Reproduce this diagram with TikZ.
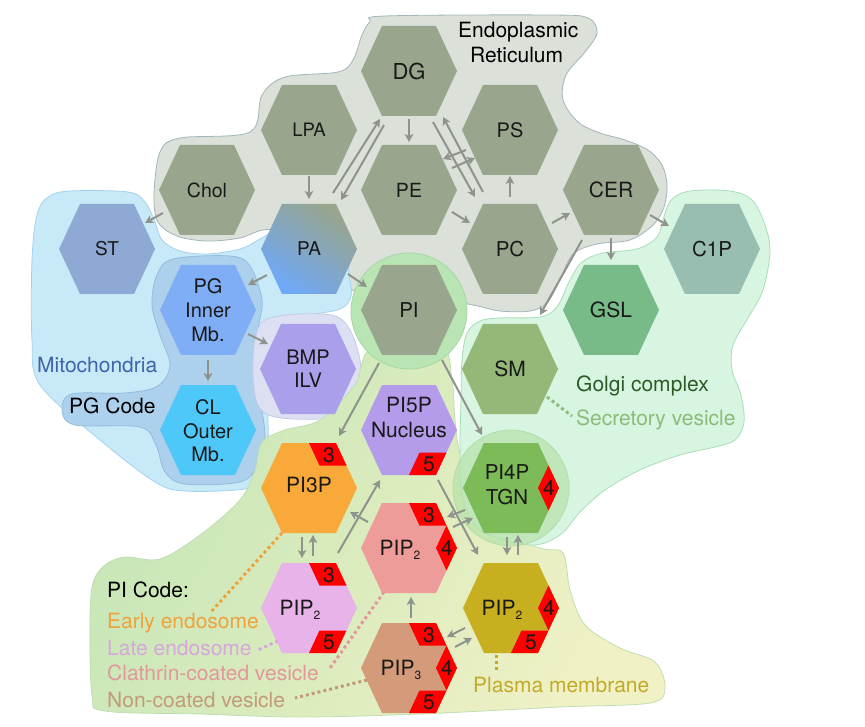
\documentclass[tikz,border=0pt]{standalone}
\usepackage{fontspec}
\setmainfont{TeX Gyre Heros}
\usetikzlibrary{arrows.meta,calc}

\definecolor{erbg}{HTML}{DBE0D9}
\definecolor{erbd}{HTML}{A3B5B9}
\definecolor{erhex}{HTML}{99A58C}
\definecolor{mitobg}{HTML}{C7E9F8}
\definecolor{mitobd}{HTML}{A4D2EC}
\definecolor{pgbg}{HTML}{ADD0EC}
\definecolor{pgbd}{HTML}{93BCDD}
\definecolor{sthex}{HTML}{8EA9D4}
\definecolor{pghex}{HTML}{7FADF6}
\definecolor{clhex}{HTML}{4DC8F8}
\definecolor{bmpbg}{HTML}{DDE0F3}
\definecolor{bmpbd}{HTML}{C5CAE8}
\definecolor{bmphex}{HTML}{AA9FEB}
\definecolor{pablue}{HTML}{6EA8F8}
\definecolor{piring}{HTML}{B9E4B4}
\definecolor{piringbd}{HTML}{A5D8A2}
\definecolor{golgibg}{HTML}{D7F5E0}
\definecolor{golgibd}{HTML}{A9DDB9}
\definecolor{c1phex}{HTML}{98BEB2}
\definecolor{gslhex}{HTML}{78BB89}
\definecolor{smhex}{HTML}{93B878}
\definecolor{picodeA}{HTML}{C6E6B7}
\definecolor{picodeB}{HTML}{F0F1C5}
\definecolor{picodebd}{HTML}{C0DEB2}
\definecolor{tgnring}{HTML}{B6E2AA}
\definecolor{tgnringbd}{HTML}{A8D8A4}
\definecolor{pifivehex}{HTML}{B49CEA}
\definecolor{pithreehex}{HTML}{F9A93A}
\definecolor{tgnhex}{HTML}{7CBB58}
\definecolor{pinkhex}{HTML}{EE9C9A}
\definecolor{lilachex}{HTML}{E8B3E8}
\definecolor{olivehex}{HTML}{C8AF20}
\definecolor{pipthreehex}{HTML}{D49B7A}
\definecolor{badgered}{HTML}{FF0000}
\definecolor{arrowgray}{HTML}{8E948B}
\definecolor{mitotxt}{HTML}{3F64AA}
\definecolor{golgitxt}{HTML}{2E5A28}
\definecolor{secrtxt}{HTML}{8DBB78}
\definecolor{earlytxt}{HTML}{F0A23A}
\definecolor{latetxt}{HTML}{D6A6DC}
\definecolor{clathtxt}{HTML}{E2979A}
\definecolor{nontxt}{HTML}{C39A78}
\definecolor{plasmatxt}{HTML}{C2AA2A}

\newcommand\hexat[4]{\pic[fill=#4] at (#2,#3) {hexa}; \coordinate (#1) at (#2,#3);}
\newcommand\sbtwo[1]{\raisebox{-0.35ex}{\fontsize{12}{12}\selectfont #1}}

\begin{document}
\begin{tikzpicture}[x=1pt,y=-1pt,
  hexa/.pic={\path[pic actions] (-48,0) -- (-27,-45) -- (27,-45) -- (48,0) -- (27,45) -- (-27,45) -- cycle;},
  bthree/.pic={\fill[badgered] (0,-45) -- (27,-45) -- (37.5,-22.5) -- (10.5,-22.5) -- cycle; \node[bnum] (-n) at (20,-33) {3};},
  bfour/.pic={\fill[badgered] (37.5,-22.5) -- (48,0) -- (37.5,22.5) -- (27,0) -- cycle; \node[bnum] (-n) at (38,0) {4};},
  bfive/.pic={\fill[badgered] (0,45) -- (27,45) -- (37.5,22.5) -- (10.5,22.5) -- cycle; \node[bnum] (-n) at (20,34) {5};},
  lbl/.style={font=\fontsize{20}{24}\selectfont, align=center, inner sep=0pt, text=black!90},
  bnum/.style={font=\fontsize{21}{21}\selectfont, inner sep=0pt, text=black!90},
  txt/.style={font=\fontsize{21}{25}\selectfont, inner sep=0pt, anchor=base west},
  arr/.style={draw=arrowgray, line width=2pt, -{Stealth[length=8pt,width=8.5pt,inset=2pt]}},
  dotl/.style={line width=3pt, dash pattern=on 3pt off 3pt},
  blob/.style={line width=0.8pt},
]
\useasboundingbox (0,0) rectangle (865,727);

% ---------- regions ----------
\filldraw[blob, fill=erbg, draw=erbd] plot[smooth cycle, tension=0.55] coordinates {
 (370,22) (385,16) (550,15) (588,18) (597,33) (585,52) (566,75) (563,100) (578,122)
 (600,133) (625,140) (648,150) (662,165) (667,185) (664,207) (653,225) (630,240)
 (597,244) (573,254) (560,280) (547,303) (530,311) (500,311) (473,305) (440,300)
 (380,300) (345,285) (320,255) (290,232) (263,230) (240,238) (207,241) (177,236)
 (158,222) (154,195) (160,152) (180,138) (250,132) (262,95) (285,77) (338,72)
 (353,60) (362,35)};

\filldraw[blob, fill=mitobg, draw=mitobd] plot[smooth cycle, tension=0.55] coordinates {
 (345,250) (349,275) (351,296) (340,309) (300,317) (278,328) (268,370) (268,420)
 (268,455) (260,478) (245,489) (185,491) (155,482) (100,440) (40,385) (32,340)
 (32,260) (37,215) (48,197) (70,191) (128,192) (145,202) (155,222) (162,240)
 (180,251) (207,254) (240,249) (262,238) (285,226) (320,228)};

\filldraw[blob, fill=pgbg, draw=pgbd] plot[smooth cycle, tension=0.55] coordinates {
 (173,259) (230,256) (250,266) (262,300) (258,330) (256,370) (262,410) (265,440)
 (258,465) (240,482) (185,484) (165,472) (156,445) (140,427) (75,425) (62,410)
 (72,394) (125,393) (158,386) (170,365) (160,335) (152,305) (157,275)};

\filldraw[blob, fill=bmpbg, draw=bmpbd] plot[smooth cycle, tension=0.55] coordinates {
 (265,320) (300,314) (335,316) (350,330) (360,360) (360,390) (350,412) (320,419)
 (275,417) (258,405) (253,375) (255,340)};

\shade[blob, draw=picodebd, top color=picodeA, bottom color=picodeB, shading angle=62]
 plot[smooth cycle, tension=0.55] coordinates {
 (372,348) (440,345) (452,380) (455,420) (462,460) (490,525) (540,548) (563,553)
 (570,590) (585,625) (620,648) (655,662) (665,688) (650,703) (560,707) (420,714)
 (300,717) (200,714) (105,711) (92,695) (90,620) (93,583) (105,565) (125,557)
 (160,559) (200,535) (240,500) (255,470) (262,442) (285,430) (320,420) (355,385)};

\filldraw[blob, fill=golgibg, draw=golgibd] plot[smooth cycle, tension=0.55] coordinates {
 (690,191) (730,191) (752,200) (765,225) (770,252) (763,290) (748,318) (733,345)
 (732,370) (741,395) (744,422) (735,440) (715,447) (680,455) (640,470) (605,490)
 (580,512) (560,535) (530,545) (480,530) (462,495) (460,450) (461,400) (462,360)
 (467,333) (480,321) (500,318) (540,317) (557,307) (570,280) (582,262) (603,253)
 (637,249) (657,237) (664,217) (671,200)};

\filldraw[blob, fill=piring, draw=piringbd] (409,311) circle (58pt);
\filldraw[blob, fill=tgnring, fill opacity=0.7, draw=tgnringbd, draw opacity=0.7] (511,488) circle (58pt);

% ---------- hexagons ----------
\hexat{DG}{409}{71}{erhex}
\hexat{LPA}{309}{130}{erhex}
\hexat{PS}{510}{130}{erhex}
\hexat{Chol}{207}{190}{erhex}
\hexat{PE}{409}{190}{erhex}
\hexat{CER}{611}{190}{erhex}
\hexat{ST}{107}{249}{sthex}
\coordinate (PA) at (309,249);
\shade[top color=erhex, bottom color=pablue, shading angle=-35]
 (261,249) -- (282,204) -- (336,204) -- (357,249) -- (336,294) -- (282,294) -- cycle;
\hexat{PC}{510}{249}{erhex}
\hexat{CiP}{712}{249}{c1phex}
\hexat{PGI}{208}{310}{pghex}
\hexat{PI}{409}{310}{erhex}
\hexat{GSL}{611}{310}{gslhex}
\hexat{BMP}{308}{369}{bmphex}
\hexat{SM}{510}{369}{smhex}
\hexat{CL}{208}{430}{clhex}
\hexat{PIfive}{409}{430}{pifivehex}
\hexat{PIthree}{309}{488}{pithreehex}
\hexat{TGN}{511}{488}{tgnhex}
\hexat{Pink}{409}{548}{pinkhex}
\hexat{Lilac}{309}{608}{lilachex}
\hexat{Olive}{511}{608}{olivehex}
\hexat{PIPthree}{409}{668}{pipthreehex}

% badges
\pic (bA) at (PIthree) {bthree};
\pic (bB) at (PIfive) {bfive};
\pic (bC) at (TGN) {bfour};
\pic (bD) at (Pink) {bthree};
\pic (bE) at (Pink) {bfour};
\pic (bF) at (Lilac) {bthree};
\pic (bG) at (Lilac) {bfive};
\pic (bH) at (Olive) {bfour};
\pic (bI) at (Olive) {bfive};
\pic (bJ) at (PIPthree) {bthree};
\pic (bK) at (PIPthree) {bfour};
\pic (bL) at (PIPthree) {bfive};

% ---------- hexagon labels ----------
\node[lbl, font=\fontsize{22}{26}\selectfont] (tDG) at (DG) {DG};
\node[lbl, font=\fontsize{18.5}{22}\selectfont] (tLPA) at (LPA) {LPA};
\node[lbl, font=\fontsize{20}{24}\selectfont] (tPS) at (PS) {PS};
\node[lbl, font=\fontsize{19.5}{24}\selectfont] (tChol) at (Chol) {Chol};
\node[lbl, font=\fontsize{19.5}{24}\selectfont] (tPE) at (PE) {PE};
\node[lbl, font=\fontsize{21}{24}\selectfont] (tCER) at (CER) {CER};
\node[lbl, font=\fontsize{19}{24}\selectfont] (tST) at (ST) {ST};
\node[lbl, font=\fontsize{19}{24}\selectfont] (tPA) at (PA) {PA};
\node[lbl, font=\fontsize{20.5}{24}\selectfont] (tPC) at (PC) {PC};
\node[lbl, font=\fontsize{20.5}{24}\selectfont] (tCiP) at (CiP) {C1P};
\node[lbl] (tPGI) at (PGI) {PG\\Inner\\Mb.};
\node[lbl, font=\fontsize{20.5}{24}\selectfont] (tPI) at (PI) {PI};
\node[lbl, font=\fontsize{21}{24}\selectfont] (tGSL) at (GSL) {GSL};
\node[lbl, font=\fontsize{20}{23}\selectfont] (tBMP) at (BMP) {BMP\\ILV};
\node[lbl, font=\fontsize{21}{24}\selectfont] (tSM) at (SM) {SM};
\node[lbl, font=\fontsize{20}{23.5}\selectfont] (tCL) at ($(CL)+(0,1)$) {CL\\Outer\\Mb.};
\node[lbl, font=\fontsize{21}{25}\selectfont] (tPIfive) at ($(PIfive)+(0,-12)$) {PI5P\\Nucleus};
\node[lbl, font=\fontsize{21}{24}\selectfont] (tPIthree) at ($(PIthree)+(0,-3)$) {PI3P};
\node[lbl, font=\fontsize{20.5}{25}\selectfont] (tTGN) at ($(TGN)+(-4,-3)$) {PI4P\\TGN};
\node[lbl, font=\fontsize{21}{24}\selectfont, anchor=base] (tPink) at ($(Pink)+(-9,7.5)$) {PIP\sbtwo{2}};
\node[lbl, font=\fontsize{21}{24}\selectfont, anchor=base] (tLilac) at ($(Lilac)+(-9,7.5)$) {PIP\sbtwo{2}};
\node[lbl, font=\fontsize{21}{24}\selectfont, anchor=base] (tOlive) at ($(Olive)+(-9,7.5)$) {PIP\sbtwo{2}};
\node[lbl, font=\fontsize{21}{24}\selectfont, anchor=base] (tPIPthree) at ($(PIPthree)+(-8,7.5)$) {PIP\sbtwo{3}};

% ---------- arrows ----------
\draw[arr] ($(LPA)+(0,46)$) -- ($(PA)+(0,-50)$);
\draw[arr] ($(DG)+(0,48)$) -- ($(PE)+(0,-48)$);
\draw[arr] ($(PA)+(24,-56)$) -- ($(DG)+(-29,48)$);
\draw[arr] ($(DG)+(-25,54)$) -- ($(PA)+(32,-49)$);
\draw[arr] ($(DG)+(24,51)$) -- ($(PC)+(-35,-52)$);
\draw[arr] ($(PC)+(-27,-57)$) -- ($(DG)+(34,46)$);
\draw[arr] ($(PS)+(-44,20)$) -- ($(PE)+(34,-31)$);
\draw[arr] ($(PE)+(43,-22)$) -- ($(PS)+(-35,28)$);
\draw[arr] ($(PC)+(0,-52)$) -- ($(PS)+(0,46)$);
\draw[arr] ($(PE)+(43,22)$) -- ($(PC)+(-40,-26)$);
\draw[arr] ($(PC)+(42,-26)$) -- ($(CER)+(-41,23)$);
\draw[arr] ($(CER)+(39,25)$) -- ($(CiP)+(-43,-23)$);
\draw[arr] ($(CER)+(0,48)$) -- ($(GSL)+(0,-50)$);
\draw[arr] ($(CER)+(-29,50)$) -- ($(SM)+(30,-54)$);
\draw[arr] ($(Chol)+(-44,23)$) -- ($(ST)+(38,-26)$);
\draw[arr] ($(PA)+(-42,26)$) -- ($(PGI)+(40,-25)$);
\draw[arr] ($(PA)+(39,25)$) -- ($(PI)+(-42,-23)$);
\draw[arr] ($(PGI)+(40,24)$) -- ($(BMP)+(-40,-25)$);
\draw[arr] ($(PGI)+(0,50)$) -- ($(CL)+(0,-49)$);
\draw[arr] ($(PI)+(-30,53)$) -- ($(PIthree)+(30,-52)$);
\draw[arr] ($(PI)+(33,50)$) -- ($(TGN)+(-29,-53)$);
\draw[arr] ($(PIthree)+(-7,49)$) -- ($(Lilac)+(-7,-50)$);
\draw[arr] ($(Lilac)+(4,-52)$) -- ($(PIthree)+(4,47)$);
\draw[arr] ($(Lilac)+(29,-55)$) -- ($(PIfive)+(-29,50)$);
\draw[arr] ($(Pink)+(-41,-26)$) -- ($(PIthree)+(41,24)$);
\draw[arr] ($(PIfive)+(29,50)$) -- ($(Olive)+(-33,-53)$);
\draw[arr] ($(TGN)+(-46,22)$) -- ($(Pink)+(38,-31)$);
\draw[arr] ($(Pink)+(44,-21)$) -- ($(TGN)+(-38,30)$);
\draw[arr] ($(TGN)+(-4,49)$) -- ($(Olive)+(-4,-53)$);
\draw[arr] ($(Olive)+(7,-53)$) -- ($(TGN)+(7,47)$);
\draw[arr] ($(PIPthree)+(2,-50)$) -- ($(Pink)+(2,49)$);
\draw[arr] ($(Olive)+(-46,20)$) -- ($(PIPthree)+(38,-31)$);
\draw[arr] ($(PIPthree)+(46,-21)$) -- ($(Olive)+(-39,30)$);

% ---------- labels ----------
\node[txt] (lER1) at (458,38) {Endoplasmic};
\node[txt] (lER2) at (470,63) {Reticulum};
\node[txt, text=mitotxt] (lMito) at (37,372) {Mitochondria};
\node[txt] (lPG) at (69,413) {PG Code};
\node[txt, text=golgitxt] (lGolgi) at (576,391) {Golgi complex};
\node[txt, text=secrtxt] (lSecr) at (576,425) {Secretory vesicle};
\node[txt] (lPIC) at (107,597) {PI Code:};
\node[txt, text=earlytxt] (lEarly) at (107,628) {Early endosome};
\node[txt, text=latetxt] (lLate) at (107,655) {Late endosome};
\node[txt, text=clathtxt] (lClath) at (107,680) {Clathrin-coated vesicle};
\node[txt, text=nontxt] (lNon) at (107,707) {Non-coated vesicle};
\node[txt, text=plasmatxt] (lPlasma) at (473,692) {Plasma membrane};

% ---------- dotted leader lines ----------
\coordinate (dEarly) at (210,613);
\coordinate (dLate) at (258,650);
\coordinate (dClath) at (330,668);
\coordinate (dNon) at (295,698);
\coordinate (dPlasma) at (496,673);
\coordinate (dSecr) at (572,416);
\draw[dotl, draw=earlytxt] ($(PIthree)+(-27,45)$) -- (dEarly);
\draw[dotl, draw=latetxt] ($(Lilac)+(-31,33)$) -- (dLate);
\draw[dotl, draw=clathtxt] ($(Pink)+(-25,44)$) -- (dClath);
\draw[dotl, draw=nontxt] ($(PIPthree)+(-42,12)$) -- (dNon);
\draw[dotl, draw=plasmatxt] ($(Olive)+(-15,47)$) -- (dPlasma);
\draw[dotl, draw=secrtxt] ($(SM)+(37,28)$) -- (dSecr);
\end{tikzpicture}
\end{document}
